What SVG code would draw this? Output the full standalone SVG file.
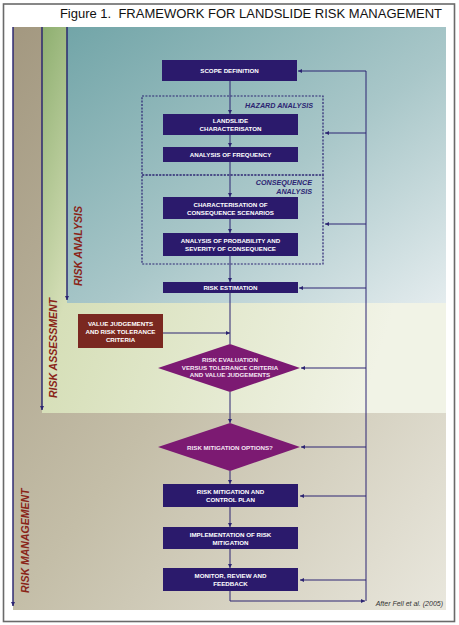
<svg xmlns="http://www.w3.org/2000/svg" width="459" height="625" viewBox="0 0 459 625">
<defs>
  <linearGradient id="gTan" x1="0" y1="0" x2="1" y2="1">
    <stop offset="0" stop-color="#a39880"/>
    <stop offset="0.5" stop-color="#c4bea8"/>
    <stop offset="1" stop-color="#e9e7dd"/>
  </linearGradient>
  <linearGradient id="gGreen" x1="0" y1="0" x2="1" y2="0.3">
    <stop offset="0" stop-color="#8eaf70"/>
    <stop offset="0.25" stop-color="#d6dfb8"/>
    <stop offset="1" stop-color="#f1f3e6"/>
  </linearGradient>
  <linearGradient id="gBlue" x1="0" y1="0" x2="1" y2="1">
    <stop offset="0" stop-color="#72a5a8"/>
    <stop offset="0.55" stop-color="#a9c7c9"/>
    <stop offset="1" stop-color="#e4ecee"/>
  </linearGradient>
  <marker id="ah" viewBox="0 0 6 6" refX="6" refY="3" markerWidth="4.5" markerHeight="4.5" orient="auto" markerUnits="userSpaceOnUse">
    <path d="M0,0 L6,3 L0,6 z" fill="#2c2472"/>
  </marker>
  <marker id="ahs" viewBox="0 0 6 6" refX="6" refY="3" markerWidth="4" markerHeight="4" orient="auto" markerUnits="userSpaceOnUse">
    <path d="M0,0 L6,3 L0,6 z" fill="#2c2472"/>
  </marker>
</defs>
<style>
  .ff{font-family:"Liberation Sans",Arial,sans-serif}
  .box{fill:#2b1a6c}
  .red{fill:#7a2820}
  .dia{fill:#7c1a72}
  .bt{font-family:"Liberation Sans",Arial,sans-serif;font-weight:bold;font-size:6.2px;fill:#ffffff;text-anchor:middle}
  .dt{font-family:"Liberation Sans",Arial,sans-serif;font-weight:bold;font-size:6.2px;fill:#f4e6f2;text-anchor:middle}
  .dash{fill:none;stroke:#2c2472;stroke-width:1.2;stroke-dasharray:2 1.4}
  .lab{font-family:"Liberation Sans",Arial,sans-serif;font-weight:bold;font-style:italic;font-size:7.2px;fill:#2c2472;text-anchor:end}
  .side{font-family:"Liberation Sans",Arial,sans-serif;font-weight:bold;font-style:italic;font-size:10.5px;fill:#8a2418}
  .ln{fill:none;stroke:#2c2472;stroke-width:1}
  .band{fill:none;stroke:#24206e;stroke-width:1.4}
</style>

<rect x="0" y="0" width="459" height="625" fill="#ffffff"/>
<rect x="3.5" y="4" width="451" height="617.5" fill="#ffffff" stroke="#6a6a6a" stroke-width="1.6"/>
<text class="ff" x="442" y="18" font-size="13" text-anchor="end" fill="#111111" xml:space="preserve">Figure 1.  FRAMEWORK FOR LANDSLIDE RISK MANAGEMENT</text>

<g id="backgrounds">
  <rect x="13" y="27" width="433" height="583" fill="url(#gTan)"/>
  <path d="M42,27 H67 V303 H446 V413 H42 Z" fill="url(#gGreen)"/>
  <rect x="67" y="27" width="379" height="276" fill="url(#gBlue)"/>
</g>

<g id="band-arrows">
  <line class="band" x1="13" y1="27" x2="13" y2="606" marker-end="url(#ah)"/>
  <line class="band" x1="42" y1="27" x2="42" y2="410" marker-end="url(#ah)"/>
  <line class="band" x1="67" y1="27" x2="67" y2="300" marker-end="url(#ah)"/>
  <text class="side" transform="translate(82,286) rotate(-90)">RISK ANALYSIS</text>
  <text class="side" transform="translate(57,398) rotate(-90)">RISK ASSESSMENT</text>
  <text class="side" transform="translate(29,593) rotate(-90)">RISK MANAGEMENT</text>
</g>

<g id="hazard-analysis">
  <rect class="dash" x="142" y="96" width="181" height="79"/>
  <text class="lab" x="313" y="108">HAZARD ANALYSIS</text>
</g>
<g id="consequence-analysis">
  <rect class="dash" x="142" y="175" width="181" height="89"/>
  <text class="lab" x="312" y="185">CONSEQUENCE</text>
  <text class="lab" x="312" y="194">ANALYSIS</text>
</g>

<g id="connectors">
  <line class="ln" x1="230" y1="81" x2="230" y2="114" marker-end="url(#ahs)"/>
  <line class="ln" x1="230" y1="135" x2="230" y2="147" marker-end="url(#ahs)"/>
  <line class="ln" x1="230" y1="162" x2="230" y2="197" marker-end="url(#ahs)"/>
  <line class="ln" x1="230" y1="219" x2="230" y2="233" marker-end="url(#ahs)"/>
  <line class="ln" x1="230" y1="256" x2="230" y2="282" marker-end="url(#ahs)"/>
  <line class="ln" x1="230" y1="293" x2="230" y2="344"/>
  <line class="ln" x1="163" y1="333" x2="230" y2="333" marker-end="url(#ahs)"/>
  <line class="ln" x1="230" y1="392" x2="230" y2="423" marker-end="url(#ahs)"/>
  <line class="ln" x1="230" y1="471" x2="230" y2="484" marker-end="url(#ahs)"/>
  <line class="ln" x1="230" y1="507" x2="230" y2="527" marker-end="url(#ahs)"/>
  <line class="ln" x1="230" y1="549" x2="230" y2="568" marker-end="url(#ahs)"/>
  <polyline class="ln" points="230,591 230,601 365,601" marker-end="url(#ahs)"/>
  <line class="ln" x1="366" y1="601" x2="366" y2="71"/>
  <line class="ln" x1="366" y1="71" x2="298" y2="71" marker-end="url(#ahs)"/>
  <line class="ln" x1="366" y1="133" x2="325" y2="133" marker-end="url(#ahs)"/>
  <line class="ln" x1="366" y1="224" x2="325" y2="224" marker-end="url(#ahs)"/>
  <line class="ln" x1="366" y1="288" x2="299" y2="288" marker-end="url(#ahs)"/>
  <line class="ln" x1="366" y1="368" x2="301" y2="368" marker-end="url(#ahs)"/>
  <line class="ln" x1="366" y1="447" x2="301" y2="447" marker-end="url(#ahs)"/>
  <line class="ln" x1="366" y1="496" x2="300" y2="496" marker-end="url(#ahs)"/>
  <line class="ln" x1="366" y1="580" x2="300" y2="580" marker-end="url(#ahs)"/>
</g>

<g id="scope-definition">
  <rect class="box" x="162" y="60" width="135" height="21"/>
  <text class="bt" x="229.5" y="72.5">SCOPE DEFINITION</text>
</g>
<g id="landslide-characterisation">
  <rect class="box" x="163" y="114" width="135" height="21"/>
  <text class="bt" x="230.5" y="123">LANDSLIDE</text>
  <text class="bt" x="230.5" y="131">CHARACTERISATON</text>
</g>
<g id="analysis-frequency">
  <rect class="box" x="163" y="147" width="135" height="15"/>
  <text class="bt" x="230.5" y="157">ANALYSIS OF FREQUENCY</text>
</g>
<g id="consequence-scenarios">
  <rect class="box" x="163" y="197" width="135" height="22"/>
  <text class="bt" x="230.5" y="206.5">CHARACTERISATION OF</text>
  <text class="bt" x="230.5" y="214.5">CONSEQUENCE SCENARIOS</text>
</g>
<g id="probability-severity">
  <rect class="box" x="163" y="233" width="135" height="23"/>
  <text class="bt" x="230.5" y="242.5">ANALYSIS OF PROBABILITY AND</text>
  <text class="bt" x="230.5" y="250.5">SEVERITY OF CONSEQUENCE</text>
</g>
<g id="risk-estimation">
  <rect class="box" x="163" y="282" width="135" height="11"/>
  <text class="bt" x="230.5" y="290">RISK ESTIMATION</text>
</g>
<g id="value-judgements">
  <rect class="red" x="78" y="314" width="85" height="34"/>
  <text class="bt" x="120.5" y="326" font-size="6.4">VALUE JUDGEMENTS</text>
  <text class="bt" x="120.5" y="334" font-size="6.4">AND RISK TOLERANCE</text>
  <text class="bt" x="120.5" y="342" font-size="6.4">CRITERIA</text>
</g>
<g id="risk-evaluation">
  <polygon class="dia" points="230,344 300,368 230,392 158,368"/>
  <text class="dt" x="230" y="362">RISK EVALUATION</text>
  <text class="dt" x="230" y="369.5">VERSUS TOLERANCE CRITERIA</text>
  <text class="dt" x="230" y="377">AND VALUE JUDGEMENTS</text>
</g>
<g id="risk-mitigation-options">
  <polygon class="dia" points="230,423 300,447 230,471 158,447"/>
  <text class="dt" x="230" y="449.5">RISK MITIGATION OPTIONS?</text>
</g>
<g id="mitigation-control-plan">
  <rect class="box" x="163" y="484" width="135" height="23"/>
  <text class="bt" x="230.5" y="494">RISK MITIGATION AND</text>
  <text class="bt" x="230.5" y="502">CONTROL PLAN</text>
</g>
<g id="implementation">
  <rect class="box" x="163" y="527" width="135" height="22"/>
  <text class="bt" x="230.5" y="536.5">IMPLEMENTATION OF RISK</text>
  <text class="bt" x="230.5" y="544.5">MITIGATION</text>
</g>
<g id="monitor-review">
  <rect class="box" x="163" y="568" width="135" height="23"/>
  <text class="bt" x="230.5" y="578">MONITOR, REVIEW AND</text>
  <text class="bt" x="230.5" y="586">FEEDBACK</text>
</g>

<text class="ff" x="443" y="606" font-size="7" font-style="italic" fill="#333333" text-anchor="end">After Fell et al. (2005)</text>
</svg>
